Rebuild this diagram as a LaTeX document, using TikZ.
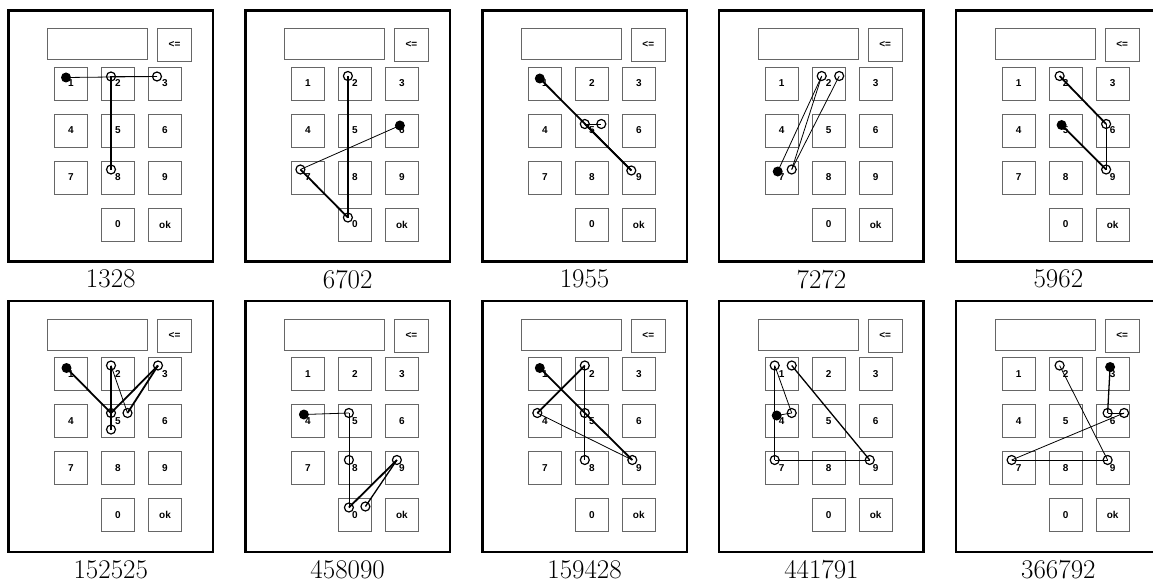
\documentclass[tikz,border=0pt]{standalone}
\usepackage{fontspec}
\newfontfamily\keyfont{Liberation Sans}
\usetikzlibrary{positioning,calc}

\tikzset{
  casing/.style = {draw, line width=2.5pt, minimum width=204.5pt, minimum height=251pt, inner sep=0pt},
  keybox/.style = {draw=black!60, line width=0.9pt, minimum size=33pt, inner sep=0pt,
    font=\keyfont\bfseries\fontsize{10}{10}\selectfont},
  pinlabel/.style = {inner sep=0pt, font=\fontsize{27}{29}\selectfont},
  touch/.style = {draw, circle, line width=1.2pt, minimum size=9pt, inner sep=0pt},
  firsttouch/.style = {fill, circle, minimum size=10pt, inner sep=0pt},
  swipe/.style = {line width=0.8pt},
  swipe mid/.style = {line width=1.3pt},
  swipe bold/.style = {line width=1.8pt}
}

% #1 name, #2 #3 top left corner, #4 pin under the keypad
\newcommand{\keypad}[4]{
  \begin{scope}[shift={(#2,#3)}]
    \node[casing] (#1frame) at (102.25,125.5) {};
    \node[keybox, minimum width=100pt, minimum height=31pt] (#1disp) at (89,33.5) {};
    \node[keybox, minimum width=34pt] (#1del) at (166,34.5) {<=};
    \foreach \d/\c/\r in {1/0/0,2/1/0,3/2/0,4/0/1,5/1/1,6/2/1,7/0/2,8/1/2,9/2/2,0/1/3}
      \node[keybox] (#1k\d) at (62.5+47*\c, 73+47*\r) {\d};
    \node[keybox] (#1kok) at (156.5,214) {ok};
    \node[pinlabel] (#1pin) [below=7pt of #1frame] {#4};
  \end{scope}
}

\begin{document}
\begin{tikzpicture}[x=1pt, y=-1pt]
  \clip (0,0) rectangle (1153,583);

  \keypad{P1328}{8.5}{10.5}{1328}
  \keypad{P6702}{245.4}{10.5}{6702}
  \keypad{P1955}{482.3}{10.5}{1955}
  \keypad{P7272}{719.2}{10.5}{7272}
  \keypad{P5962}{956.1}{10.5}{5962}
  \keypad{P152525}{8.5}{301}{152525}
  \keypad{P458090}{245.4}{301}{458090}
  \keypad{P159428}{482.3}{301}{159428}
  \keypad{P441791}{719.2}{301}{441791}
  \keypad{P366792}{956.1}{301}{366792}

  % 1328
  \node[firsttouch] (P1328t1) at ($(P1328k1)+(-5,-6)$) {};
  \node[touch] (P1328t2) at ($(P1328k3)+(-8,-7)$) {};
  \node[touch] (P1328t3) at ($(P1328k2)+(-7,-7)$) {};
  \node[touch] (P1328t4) at ($(P1328k8)+(-7,-8)$) {};
  \draw[swipe] (P1328t1.center) -- (P1328t2.center);
  \draw[swipe] (P1328t2.center) -- (P1328t3.center);
  \draw[swipe bold] (P1328t3.center) -- (P1328t4.center);

  % 6702
  \node[firsttouch] (P6702t1) at ($(P6702k6)+(-2,-5)$) {};
  \node[touch] (P6702t2) at ($(P6702k7)+(-7.5,-8)$) {};
  \node[touch] (P6702t3) at ($(P6702k0)+(-7,-7)$) {};
  \node[touch] (P6702t4) at ($(P6702k2)+(-7,-7.5)$) {};
  \draw[swipe] (P6702t1.center) -- (P6702t2.center);
  \draw[swipe bold] (P6702t2.center) -- (P6702t3.center);
  \draw[swipe mid] (P6702t3.center) -- (P6702t4.center);

  % 1955
  \node[firsttouch] (P1955t1) at ($(P1955k1)+(-5,-5)$) {};
  \node[touch] (P1955t2) at ($(P1955k9)+(-7.5,-7)$) {};
  \node[touch] (P1955t3) at ($(P1955k5)+(-7,-6.5)$) {};
  \node[touch] (P1955t4) at ($(P1955k5)+(9.5,-6.5)$) {};
  \draw[swipe bold] (P1955t1.center) -- (P1955t2.center);
  \draw[swipe bold] (P1955t2.center) -- (P1955t3.center);
  \draw[swipe] (P1955t3.center) -- (P1955t4.center);

  % 7272
  \node[firsttouch] (P7272t1) at ($(P7272k7)+(-4,-6)$) {};
  \node[touch] (P7272t2) at ($(P7272k2)+(-7,-7.5)$) {};
  \node[touch] (P7272t3) at ($(P7272k7)+(10,-8)$) {};
  \node[touch] (P7272t4) at ($(P7272k2)+(10.5,-7.5)$) {};
  \draw[swipe] (P7272t1.center) -- (P7272t2.center);
  \draw[swipe] (P7272t2.center) -- (P7272t3.center);
  \draw[swipe] (P7272t3.center) -- (P7272t4.center);

  % 5962
  \node[firsttouch] (P5962t1) at ($(P5962k5)+(-4,-5.5)$) {};
  \node[touch] (P5962t2) at ($(P5962k9)+(-6.5,-8)$) {};
  \node[touch] (P5962t3) at ($(P5962k6)+(-6.5,-6.5)$) {};
  \node[touch] (P5962t4) at ($(P5962k2)+(-6,-7.5)$) {};
  \draw[swipe bold] (P5962t1.center) -- (P5962t2.center);
  \draw[swipe] (P5962t2.center) -- (P5962t3.center);
  \draw[swipe bold] (P5962t3.center) -- (P5962t4.center);

  % 152525
  \node[firsttouch] (P152525t1) at ($(P152525k1)+(-4.5,-6)$) {};
  \node[touch] (P152525t2) at ($(P152525k5)+(-7,-8)$) {};
  \node[touch] (P152525t3) at ($(P152525k3)+(-7,-8.5)$) {};
  \node[touch] (P152525t4) at ($(P152525k5)+(9.5,-8)$) {};
  \node[touch] (P152525t5) at ($(P152525k2)+(-7,-8.5)$) {};
  \node[touch] (P152525t6) at ($(P152525k5)+(-7,8.5)$) {};
  \draw[swipe bold] (P152525t1.center) -- (P152525t2.center);
  \draw[swipe bold] (P152525t2.center) -- (P152525t3.center);
  \draw[swipe bold] (P152525t3.center) -- (P152525t4.center);
  \draw[swipe] (P152525t4.center) -- (P152525t5.center);
  \draw[swipe mid] (P152525t5.center) -- (P152525t6.center);

  % 458090
  \node[firsttouch] (P458090t1) at ($(P458090k4)+(-4,-6.5)$) {};
  \node[touch] (P458090t2) at ($(P458090k5)+(-6,-8)$) {};
  \node[touch] (P458090t3) at ($(P458090k8)+(-6,-8)$) {};
  \node[touch] (P458090t4) at ($(P458090k0)+(-6,-7.5)$) {};
  \node[touch] (P458090t5) at ($(P458090k9)+(-5,-8)$) {};
  \node[touch] (P458090t6) at ($(P458090k0)+(10.5,-8.5)$) {};
  \draw[swipe] (P458090t1.center) -- (P458090t2.center);
  \draw[swipe] (P458090t2.center) -- (P458090t3.center);
  \draw[swipe] (P458090t3.center) -- (P458090t4.center);
  \draw[swipe bold] (P458090t4.center) -- (P458090t5.center);
  \draw[swipe mid] (P458090t5.center) -- (P458090t6.center);

  % 159428
  \node[firsttouch] (P159428t1) at ($(P159428k1)+(-5,-6)$) {};
  \node[touch] (P159428t2) at ($(P159428k5)+(-7,-8)$) {};
  \node[touch] (P159428t3) at ($(P159428k9)+(-6.5,-8)$) {};
  \node[touch] (P159428t4) at ($(P159428k4)+(-7.5,-8)$) {};
  \node[touch] (P159428t5) at ($(P159428k2)+(-7,-8.5)$) {};
  \node[touch] (P159428t6) at ($(P159428k8)+(-7,-8)$) {};
  \draw[swipe bold] (P159428t1.center) -- (P159428t2.center);
  \draw[swipe bold] (P159428t2.center) -- (P159428t3.center);
  \draw[swipe] (P159428t3.center) -- (P159428t4.center);
  \draw[swipe bold] (P159428t4.center) -- (P159428t5.center);
  \draw[swipe] (P159428t5.center) -- (P159428t6.center);

  % 441791
  \node[firsttouch] (P441791t1) at ($(P441791k4)+(-5,-5.5)$) {};
  \node[touch] (P441791t2) at ($(P441791k4)+(10,-8)$) {};
  \node[touch] (P441791t3) at ($(P441791k1)+(-7,-8.5)$) {};
  \node[touch] (P441791t4) at ($(P441791k7)+(-7,-8)$) {};
  \node[touch] (P441791t5) at ($(P441791k9)+(-6,-8)$) {};
  \node[touch] (P441791t6) at ($(P441791k1)+(10,-8.5)$) {};
  \draw[swipe] (P441791t1.center) -- (P441791t2.center);
  \draw[swipe] (P441791t2.center) -- (P441791t3.center);
  \draw[swipe] (P441791t3.center) -- (P441791t4.center);
  \draw[swipe] (P441791t4.center) -- (P441791t5.center);
  \draw[swipe mid] (P441791t5.center) -- (P441791t6.center);

  % 366792
  \node[firsttouch] (P366792t1) at ($(P366792k3)+(-2.5,-7)$) {};
  \node[touch] (P366792t2) at ($(P366792k6)+(-5,-8)$) {};
  \node[touch] (P366792t3) at ($(P366792k6)+(11.5,-8)$) {};
  \node[touch] (P366792t4) at ($(P366792k7)+(-7,-8)$) {};
  \node[touch] (P366792t5) at ($(P366792k9)+(-5,-8)$) {};
  \node[touch] (P366792t6) at ($(P366792k2)+(-6,-8.5)$) {};
  \draw[swipe mid] (P366792t1.center) -- (P366792t2.center);
  \draw[swipe] (P366792t2.center) -- (P366792t3.center);
  \draw[swipe] (P366792t3.center) -- (P366792t4.center);
  \draw[swipe] (P366792t4.center) -- (P366792t5.center);
  \draw[swipe] (P366792t5.center) -- (P366792t6.center);
\end{tikzpicture}
\end{document}
